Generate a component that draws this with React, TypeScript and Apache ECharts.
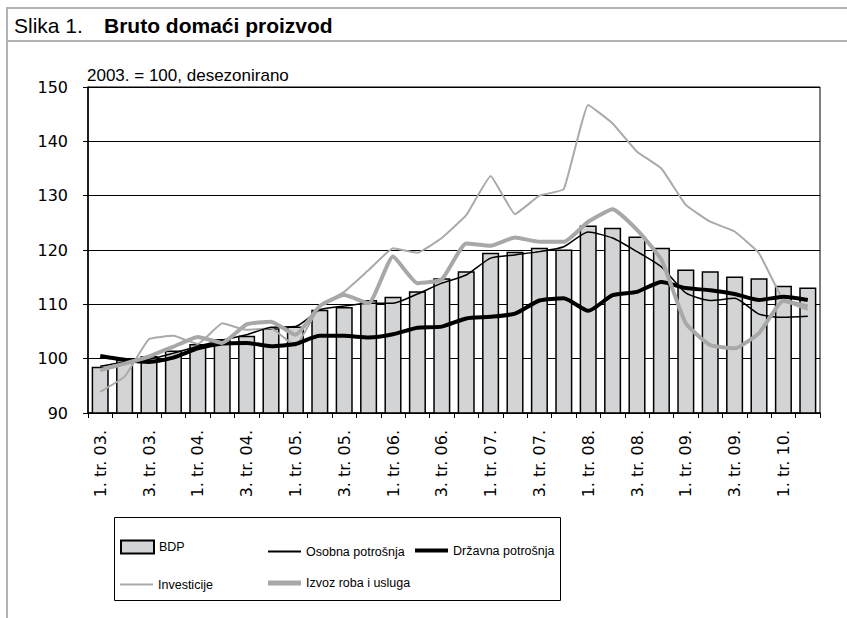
import React, { useEffect, useRef } from "react";
import * as echarts from "echarts";

const categories = [
  "1. tr. 03.", "2. tr. 03.", "3. tr. 03.", "4. tr. 03.",
  "1. tr. 04.", "2. tr. 04.", "3. tr. 04.", "4. tr. 04.",
  "1. tr. 05.", "2. tr. 05.", "3. tr. 05.", "4. tr. 05.",
  "1. tr. 06.", "2. tr. 06.", "3. tr. 06.", "4. tr. 06.",
  "1. tr. 07.", "2. tr. 07.", "3. tr. 07.", "4. tr. 07.",
  "1. tr. 08.", "2. tr. 08.", "3. tr. 08.", "4. tr. 08.",
  "1. tr. 09.", "2. tr. 09.", "3. tr. 09.", "4. tr. 09.",
  "1. tr. 10.", "2. tr. 10.",
];

const bdp = [
  98.5, 99.8, 100.5, 101.5, 102.7, 103.6, 104.2, 105.6, 105.9, 109.0,
  109.5, 110.8, 111.4, 112.4, 114.8, 116.1, 119.5, 119.7, 120.4, 120.1,
  124.5, 124.1, 122.5, 120.4, 116.4, 116.1, 115.1, 114.8, 113.4, 113.1,
];

const osobna = [
  98.6, 99.4, 99.9, 101.0, 102.3, 103.4, 104.4, 105.8, 105.9, 109.0,
  109.7, 110.2, 110.2, 111.9, 113.9, 115.4, 118.5, 119.1, 119.7, 120.6,
  123.3, 122.2, 119.7, 116.9, 112.1, 110.7, 111.1, 108.2, 107.6, 107.8,
];

const drzavna = [
  100.5, 99.8, 99.4, 100.2, 101.9, 102.8, 102.9, 102.3, 102.7, 104.2,
  104.2, 103.9, 104.5, 105.7, 105.9, 107.4, 107.7, 108.3, 110.7, 111.1,
  108.8, 111.7, 112.3, 114.1, 113.0, 112.6, 111.9, 110.8, 111.4, 110.8,
];

const investicije = [
  93.9, 96.7, 103.6, 104.2, 102.7, 106.5, 105.3, 105.6, 102.3, 109.7,
  112.3, 116.3, 120.3, 119.5, 122.2, 126.4, 133.6, 126.6, 130.0, 131.2,
  146.7, 143.3, 138.1, 135.0, 128.3, 125.2, 123.4, 119.4, 110.8, 109.0,
];

const izvoz = [
  97.9, 99.1, 100.4, 102.2, 104.0, 102.9, 106.3, 106.8, 104.4, 109.7,
  111.7, 110.2, 118.8, 113.9, 114.6, 121.2, 120.8, 122.3, 121.5, 121.5,
  125.2, 127.5, 123.7, 118.2, 106.5, 102.5, 101.9, 104.7, 110.6, 109.6,
];

const yTicks = { min: 90, max: 150, interval: 10 };

const SANS = "'Liberation Sans', Arial, sans-serif";
const AXISFONT = "'DejaVu Sans', Verdana, sans-serif";

export default function App() {
  const ref = useRef<HTMLDivElement>(null);
  useEffect(() => {
    if (!ref.current) return;
    const chart = echarts.init(ref.current, null, { renderer: "svg" });
    const row1 = 546;
    const row2 = 579;
    const mkLegend = (name: string, left: number, rowY: number, h: number) => ({
      orient: "horizontal",
      padding: 0,
      itemWidth: 33,
      itemHeight: h,
      selectedMode: false,
      data: [{ name, icon: "rect" }],
      left,
      top: rowY - h / 2,
      textStyle: { fontFamily: SANS, fontSize: 12.5, color: "#000" },
    });
    chart.setOption({
      animation: false,
      backgroundColor: "#fff",
      grid: {
        left: 88,
        right: 27,
        top: 87,
        bottom: 205,
        show: true,
        borderColor: "#000",
        borderWidth: 1,
        backgroundColor: "transparent",
      },
      xAxis: {
        type: "category",
        data: categories,
        boundaryGap: true,
        axisLine: { show: true, lineStyle: { color: "#000", width: 1.5 } },
        axisTick: { show: true, interval: 0, length: 5, lineStyle: { color: "#000", width: 1 } },
        axisLabel: {
          interval: 1,
          rotate: 90,
          margin: 17,
          fontFamily: AXISFONT,
          fontSize: 16,
          color: "#000",
        },
        splitLine: { show: false },
      },
      yAxis: {
        type: "value",
        min: yTicks.min,
        max: yTicks.max,
        interval: yTicks.interval,
        axisLine: { show: true, lineStyle: { color: "#000", width: 1.5 } },
        axisTick: { show: true, length: 5, lineStyle: { color: "#000" } },
        axisLabel: {
          margin: 20,
          fontFamily: AXISFONT,
          fontSize: 16,
          color: "#000",
        },
        splitLine: { show: true, lineStyle: { color: "#000", width: 1 } },
      },
      legend: [
        mkLegend("BDP", 120, row1, 13),
        mkLegend("Osobna potrošnja", 268, row1, 2),
        mkLegend("Državna potrošnja", 415, row1, 4),
        mkLegend("Investicije", 120, row2, 2),
        mkLegend("Izvoz roba i usluga", 268, row2, 5),
      ],
      series: [
        {
          name: "BDP",
          type: "bar",
          data: bdp,
          barWidth: "70%",
          itemStyle: { color: "#d3d4d6", borderColor: "#000", borderWidth: 1.5 },
          z: 1,
        },
        {
          name: "Osobna potrošnja",
          type: "line",
          data: osobna,
          symbol: "none",
          smooth: 0.2,
          lineStyle: { color: "#000", width: 1.5 },
          itemStyle: { color: "#000" },
          z: 3,
        },
        {
          name: "Državna potrošnja",
          type: "line",
          data: drzavna,
          symbol: "none",
          smooth: 0.2,
          lineStyle: { color: "#000", width: 4 },
          itemStyle: { color: "#000" },
          z: 4,
        },
        {
          name: "Investicije",
          type: "line",
          data: investicije,
          symbol: "none",
          smooth: 0.1,
          lineStyle: { color: "#aaaaaa", width: 2 },
          itemStyle: { color: "#aaaaaa" },
          z: 2,
        },
        {
          name: "Izvoz roba i usluga",
          type: "line",
          data: izvoz,
          symbol: "none",
          smooth: 0.15,
          lineStyle: { color: "#a8a8a8", width: 4 },
          itemStyle: { color: "#a8a8a8" },
          z: 5,
        },
      ],
      graphic: [
        { type: "line", shape: { x1: 6, y1: 8, x2: 847, y2: 8 }, style: { stroke: "#b3b3b3", lineWidth: 2 } },
        { type: "line", shape: { x1: 6, y1: 41, x2: 847, y2: 41 }, style: { stroke: "#b3b3b3", lineWidth: 2 } },
        { type: "line", shape: { x1: 7, y1: 7, x2: 7, y2: 618 }, style: { stroke: "#b3b3b3", lineWidth: 2 } },
        {
          type: "text",
          left: 14,
          top: 15,
          style: { text: "Slika 1.", fontFamily: SANS, fontSize: 21, fill: "#000" },
        },
        {
          type: "text",
          left: 104,
          top: 15,
          style: {
            text: "Bruto domaći proizvod",
            fontFamily: SANS,
            fontSize: 21,
            fontWeight: "bold",
            fill: "#000",
          },
        },
        {
          type: "text",
          left: 87,
          top: 67,
          style: { text: "2003. = 100, desezonirano", fontFamily: SANS, fontSize: 17, fill: "#000" },
        },
        {
          type: "rect",
          shape: { x: 114.5, y: 517.5, width: 446, height: 83 },
          style: { fill: "none", stroke: "#000", lineWidth: 1 },
          z: 0,
        },
      ],
    });
    return () => chart.dispose();
  }, []);
  return <div ref={ref} style={{ width: 847, height: 618, position: "absolute", left: 0, top: 0 }} />;
}
